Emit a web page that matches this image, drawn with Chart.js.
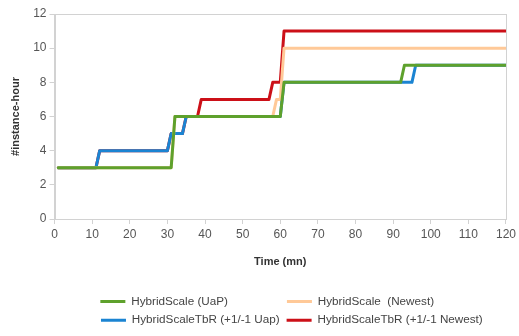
<!DOCTYPE html>
<html>
<head>
<meta charset="utf-8">
<script src="https://cdn.jsdelivr.net/npm/chart.js@4"></script>
<style>
  html, body { margin: 0; padding: 0; background: #fff; }
  #wrap { width: 519px; height: 336px; }
</style>
</head>
<body>
<div id="wrap"><canvas id="instChart" width="519" height="336"></canvas></div>
<script>
// series values (x = minute, y = instances)
const seriesNames = ['HybridScale (UaP)', 'HybridScale  (Newest)', 'HybridScaleTbR (+1/-1 Uap)', 'HybridScaleTbR (+1/-1 Newest)'];

const uapX = [1, 31, 32, 60, 61, 92, 93, 120];
const uapY = [3, 3, 6, 6, 8, 8, 9, 9];

const newestX = [1, 31, 32, 58, 59, 60, 61, 120];
const newestY = [3, 3, 6, 6, 7, 7, 10, 10];

const tbrUapX = [1, 11, 12, 30, 31, 34, 35, 60, 61, 95, 96, 120];
const tbrUapY = [3, 3, 4, 4, 5, 5, 6, 6, 8, 8, 9, 9];

const tbrNewestX = [1, 11, 12, 30, 31, 34, 35, 38, 39, 57, 58, 60, 61, 120];
const tbrNewestY = [3, 3, 4, 4, 5, 5, 6, 6, 7, 7, 8, 8, 11, 11];

const xTicks = [0, 10, 20, 30, 40, 50, 60, 70, 80, 90, 100, 110, 120];
const yTicks = [0, 2, 4, 6, 8, 10, 12];

const colors = ['#5ea12c', '#ffc998', '#1b84d2', '#cc1018'];

const toPoints = (xs, ys) => xs.map((x, i) => ({ x: x, y: ys[i] }));

const allX = [uapX, newestX, tbrUapX, tbrNewestX];
const allY = [uapY, newestY, tbrUapY, tbrNewestY];

const datasets = seriesNames.map((name, i) => ({
  label: name,
  data: toPoints(allX[i], allY[i]),
  borderColor: colors[i],
  backgroundColor: colors[i],
  borderWidth: 3,
  pointRadius: 0,
  tension: 0,
  borderJoinStyle: 'round',
  borderCapStyle: 'round'
}));

// light grey frame round the plot area
const frame = {
  id: 'frame',
  beforeDatasetsDraw(chart) {
    const { ctx, chartArea } = chart;
    ctx.save();
    ctx.strokeStyle = '#d2d2d2';
    ctx.lineWidth = 1;
    ctx.strokeRect(Math.round(chartArea.left) + 0.5, Math.round(chartArea.top) + 0.5,
      Math.round(chartArea.right - chartArea.left), Math.round(chartArea.bottom - chartArea.top));
    ctx.restore();
  }
};

const legendSize = 11.7;

// pad labels with spaces so the legend lines up in two columns
// (second column gets a few extra so the rows end short of the right edge)
const padLabels = (chart, items) => {
  const ctx = chart.ctx;
  ctx.save();
  ctx.font = legendSize + 'px "Liberation Sans"';
  for (let col = 0; col < 2; col++) {
    const idx = [col, col + 2];
    const extra = col === 1 ? 16 : 0;
    const target = Math.max(...idx.map(i => ctx.measureText(items[i].text).width)) + extra;
    idx.forEach(i => {
      while (ctx.measureText(items[i].text + ' ').width <= target + 1) items[i].text += ' ';
    });
  }
  ctx.restore();
  return items;
};

new Chart('instChart', {
  type: 'line',
  data: { datasets: datasets },
  options: {
    responsive: false,
    animation: false,
    layout: { padding: { left: 9, right: 9, top: 14, bottom: 0 } },
    plugins: {
      tooltip: { enabled: false },
      legend: {
        position: 'bottom',
        fullSize: false,
        align: 'end',
        labels: {
          font: { family: 'Liberation Sans', size: legendSize },
          color: '#444',
          boxWidth: 25,
          boxHeight: 3,
          padding: 7,
          generateLabels(chart) {
            const items = Chart.defaults.plugins.legend.labels.generateLabels(chart);
            items.forEach(it => { it.lineWidth = 0; });
            return padLabels(chart, items);
          }
        }
      }
    },
    scales: {
      x: {
        type: 'linear',
        min: 0,
        max: 120,
        afterBuildTicks: axis => { axis.ticks = xTicks.map(v => ({ value: v })); },
        grid: { drawOnChartArea: false, drawTicks: true, tickLength: 5, color: '#d2d2d2' },
        border: { color: '#d2d2d2' },
        ticks: { font: { family: 'Liberation Sans', size: 12 }, color: '#555', padding: 3, maxRotation: 0 },
        title: { display: true, text: 'Time (mn)', font: { family: 'Liberation Sans', size: 11, weight: 'bold' }, color: '#333', padding: { top: 11, bottom: 20 } }
      },
      y: {
        min: 0,
        max: 12,
        afterBuildTicks: axis => { axis.ticks = yTicks.map(v => ({ value: v })); },
        grid: { drawOnChartArea: false, drawTicks: true, tickLength: 5, color: '#d2d2d2' },
        border: { color: '#d2d2d2' },
        ticks: { font: { family: 'Liberation Sans', size: 12 }, color: '#555', padding: 3 },
        title: { display: true, text: '#instance-hour', font: { family: 'Liberation Sans', size: 11, weight: 'bold' }, color: '#333', padding: { top: 0, bottom: 8 } }
      }
    }
  },
  plugins: [frame]
});
</script>
</body>
</html>
